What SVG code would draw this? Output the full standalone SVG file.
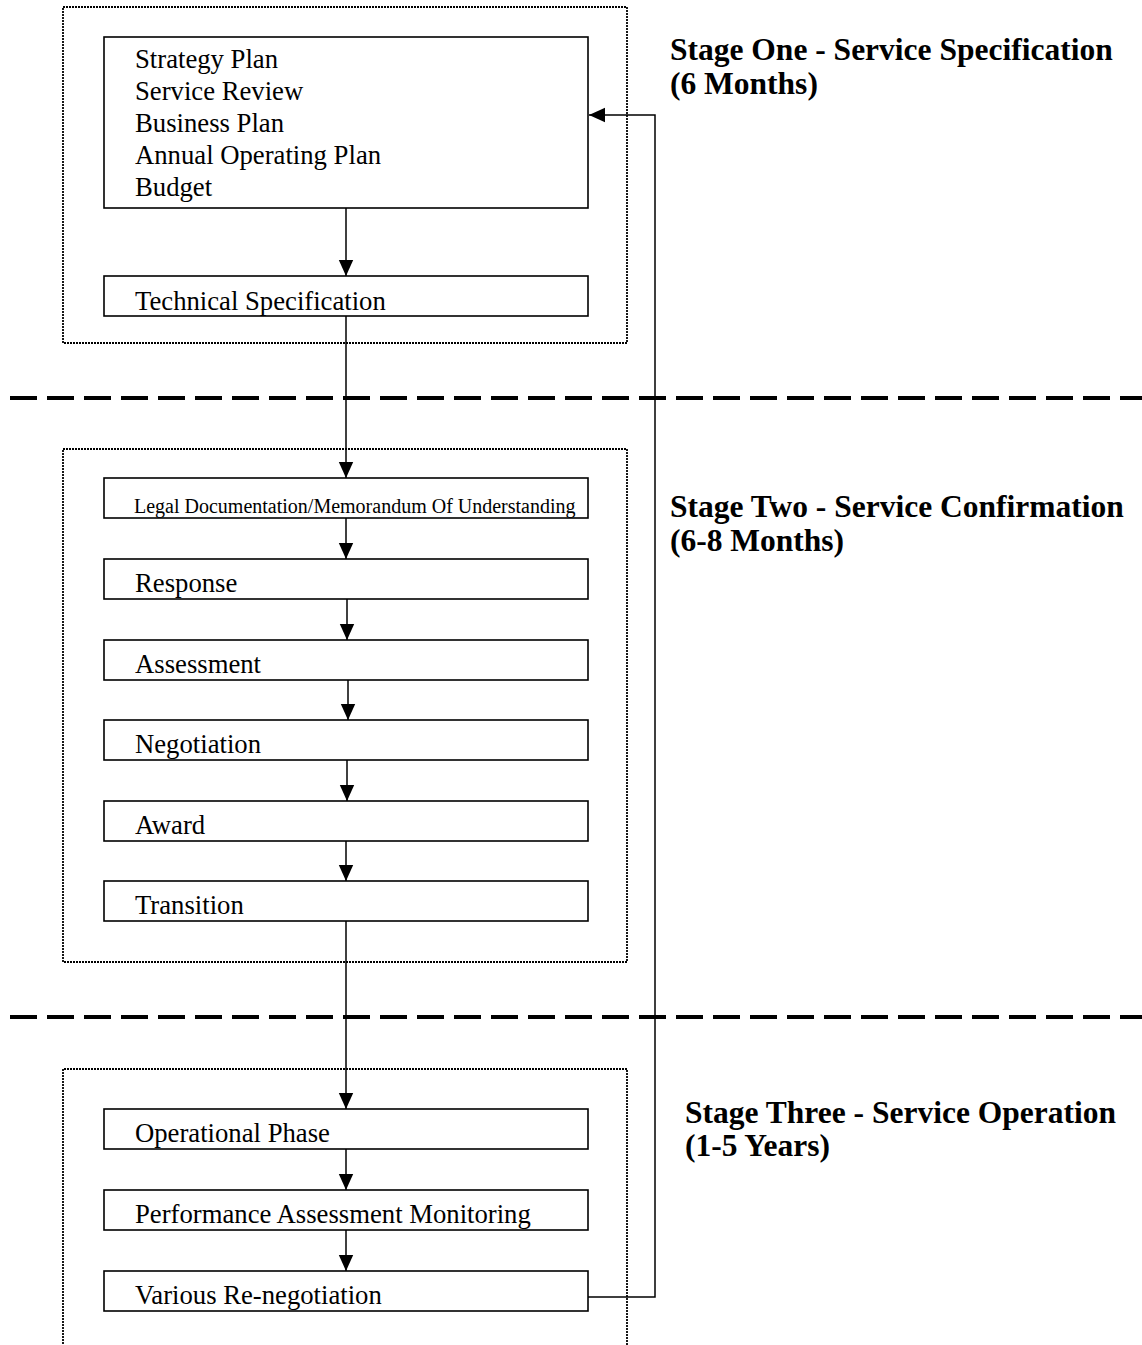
<svg xmlns="http://www.w3.org/2000/svg" width="1142" height="1345" viewBox="0 0 1142 1345">
<style>
.box{fill:#fff;stroke:#000;stroke-width:1.6}
.dot{fill:none;stroke:#000;stroke-width:1.8;stroke-dasharray:2 1}
.t{font-family:"Liberation Serif","Times New Roman",serif;font-size:26.7px;fill:#000}
.s{font-size:20px}
.h{font-family:"Liberation Serif","Times New Roman",serif;font-size:31.5px;font-weight:bold;fill:#000}
.c{fill:none;stroke:#000;stroke-width:1.5}
.dash{stroke:#000;stroke-width:4;stroke-dasharray:27 10}
</style>
<defs>
<marker id="a2" viewBox="0 0 10 10" refX="10" refY="5" markerWidth="16" markerHeight="16" markerUnits="userSpaceOnUse" orient="auto">
<path d="M0,0.5 L10,5 L0,9.5 z" fill="#000"/>
</marker>
</defs>
<rect width="1142" height="1345" fill="#fff"/>
<g id="stages">
<rect class="dot" x="63" y="7" width="564" height="336"/>
<rect class="dot" x="63" y="449" width="564" height="513"/>
<path class="dot" d="M63,1350 V1069 H627 V1350"/>
<line class="dash" x1="10" y1="398" x2="1142" y2="398"/>
<line class="dash" x1="10" y1="1017" x2="1142" y2="1017"/>
</g>
<g id="connectors">
<line class="c" x1="346" y1="208" x2="346" y2="276" marker-end="url(#a2)"/>
<line class="c" x1="346" y1="316" x2="346" y2="478" marker-end="url(#a2)"/>
<line class="c" x1="346" y1="518" x2="346" y2="559" marker-end="url(#a2)"/>
<line class="c" x1="347" y1="599" x2="347" y2="640" marker-end="url(#a2)"/>
<line class="c" x1="348" y1="680" x2="348" y2="720" marker-end="url(#a2)"/>
<line class="c" x1="347" y1="760" x2="347" y2="801" marker-end="url(#a2)"/>
<line class="c" x1="346" y1="841" x2="346" y2="881" marker-end="url(#a2)"/>
<line class="c" x1="346" y1="921" x2="346" y2="1109" marker-end="url(#a2)"/>
<line class="c" x1="346" y1="1149" x2="346" y2="1190" marker-end="url(#a2)"/>
<line class="c" x1="346" y1="1230" x2="346" y2="1271" marker-end="url(#a2)"/>
<path class="c" d="M588,1297 H655 V115 H589" marker-end="url(#a2)"/>
</g>
<g id="n1">
<rect class="box" x="104" y="37" width="484" height="171"/>
<text class="t" x="135" y="68">Strategy Plan</text>
<text class="t" x="135" y="100">Service Review</text>
<text class="t" x="135" y="132">Business Plan</text>
<text class="t" x="135" y="164">Annual Operating Plan</text>
<text class="t" x="135" y="196">Budget</text>
</g>
<g id="n2"><rect class="box" x="104" y="276" width="484" height="40"/><text class="t" x="135" y="310">Technical Specification</text></g>
<g id="n3"><rect class="box" x="104" y="478" width="484" height="40"/><text class="t s" x="134" y="513">Legal Documentation/Memorandum Of Understanding</text></g>
<g id="n4"><rect class="box" x="104" y="559" width="484" height="40"/><text class="t" x="135" y="592">Response</text></g>
<g id="n5"><rect class="box" x="104" y="640" width="484" height="40"/><text class="t" x="135" y="673">Assessment</text></g>
<g id="n6"><rect class="box" x="104" y="720" width="484" height="40"/><text class="t" x="135" y="753">Negotiation</text></g>
<g id="n7"><rect class="box" x="104" y="801" width="484" height="40"/><text class="t" x="135" y="834">Award</text></g>
<g id="n8"><rect class="box" x="104" y="881" width="484" height="40"/><text class="t" x="135" y="914">Transition</text></g>
<g id="n9"><rect class="box" x="104" y="1109" width="484" height="40"/><text class="t" x="135" y="1142">Operational Phase</text></g>
<g id="n10"><rect class="box" x="104" y="1190" width="484" height="40"/><text class="t" x="135" y="1223">Performance Assessment Monitoring</text></g>
<g id="n11"><rect class="box" x="104" y="1271" width="484" height="40"/><text class="t" x="135" y="1304">Various Re-negotiation</text></g>
<g id="labels">
<text class="h" x="670" y="60">Stage One - Service Specification</text>
<text class="h" x="670" y="94">(6 Months)</text>
<text class="h" x="670" y="517">Stage Two - Service Confirmation</text>
<text class="h" x="670" y="551">(6-8 Months)</text>
<text class="h" x="685" y="1123">Stage Three - Service Operation</text>
<text class="h" x="685" y="1156">(1-5 Years)</text>
</g>
</svg>
